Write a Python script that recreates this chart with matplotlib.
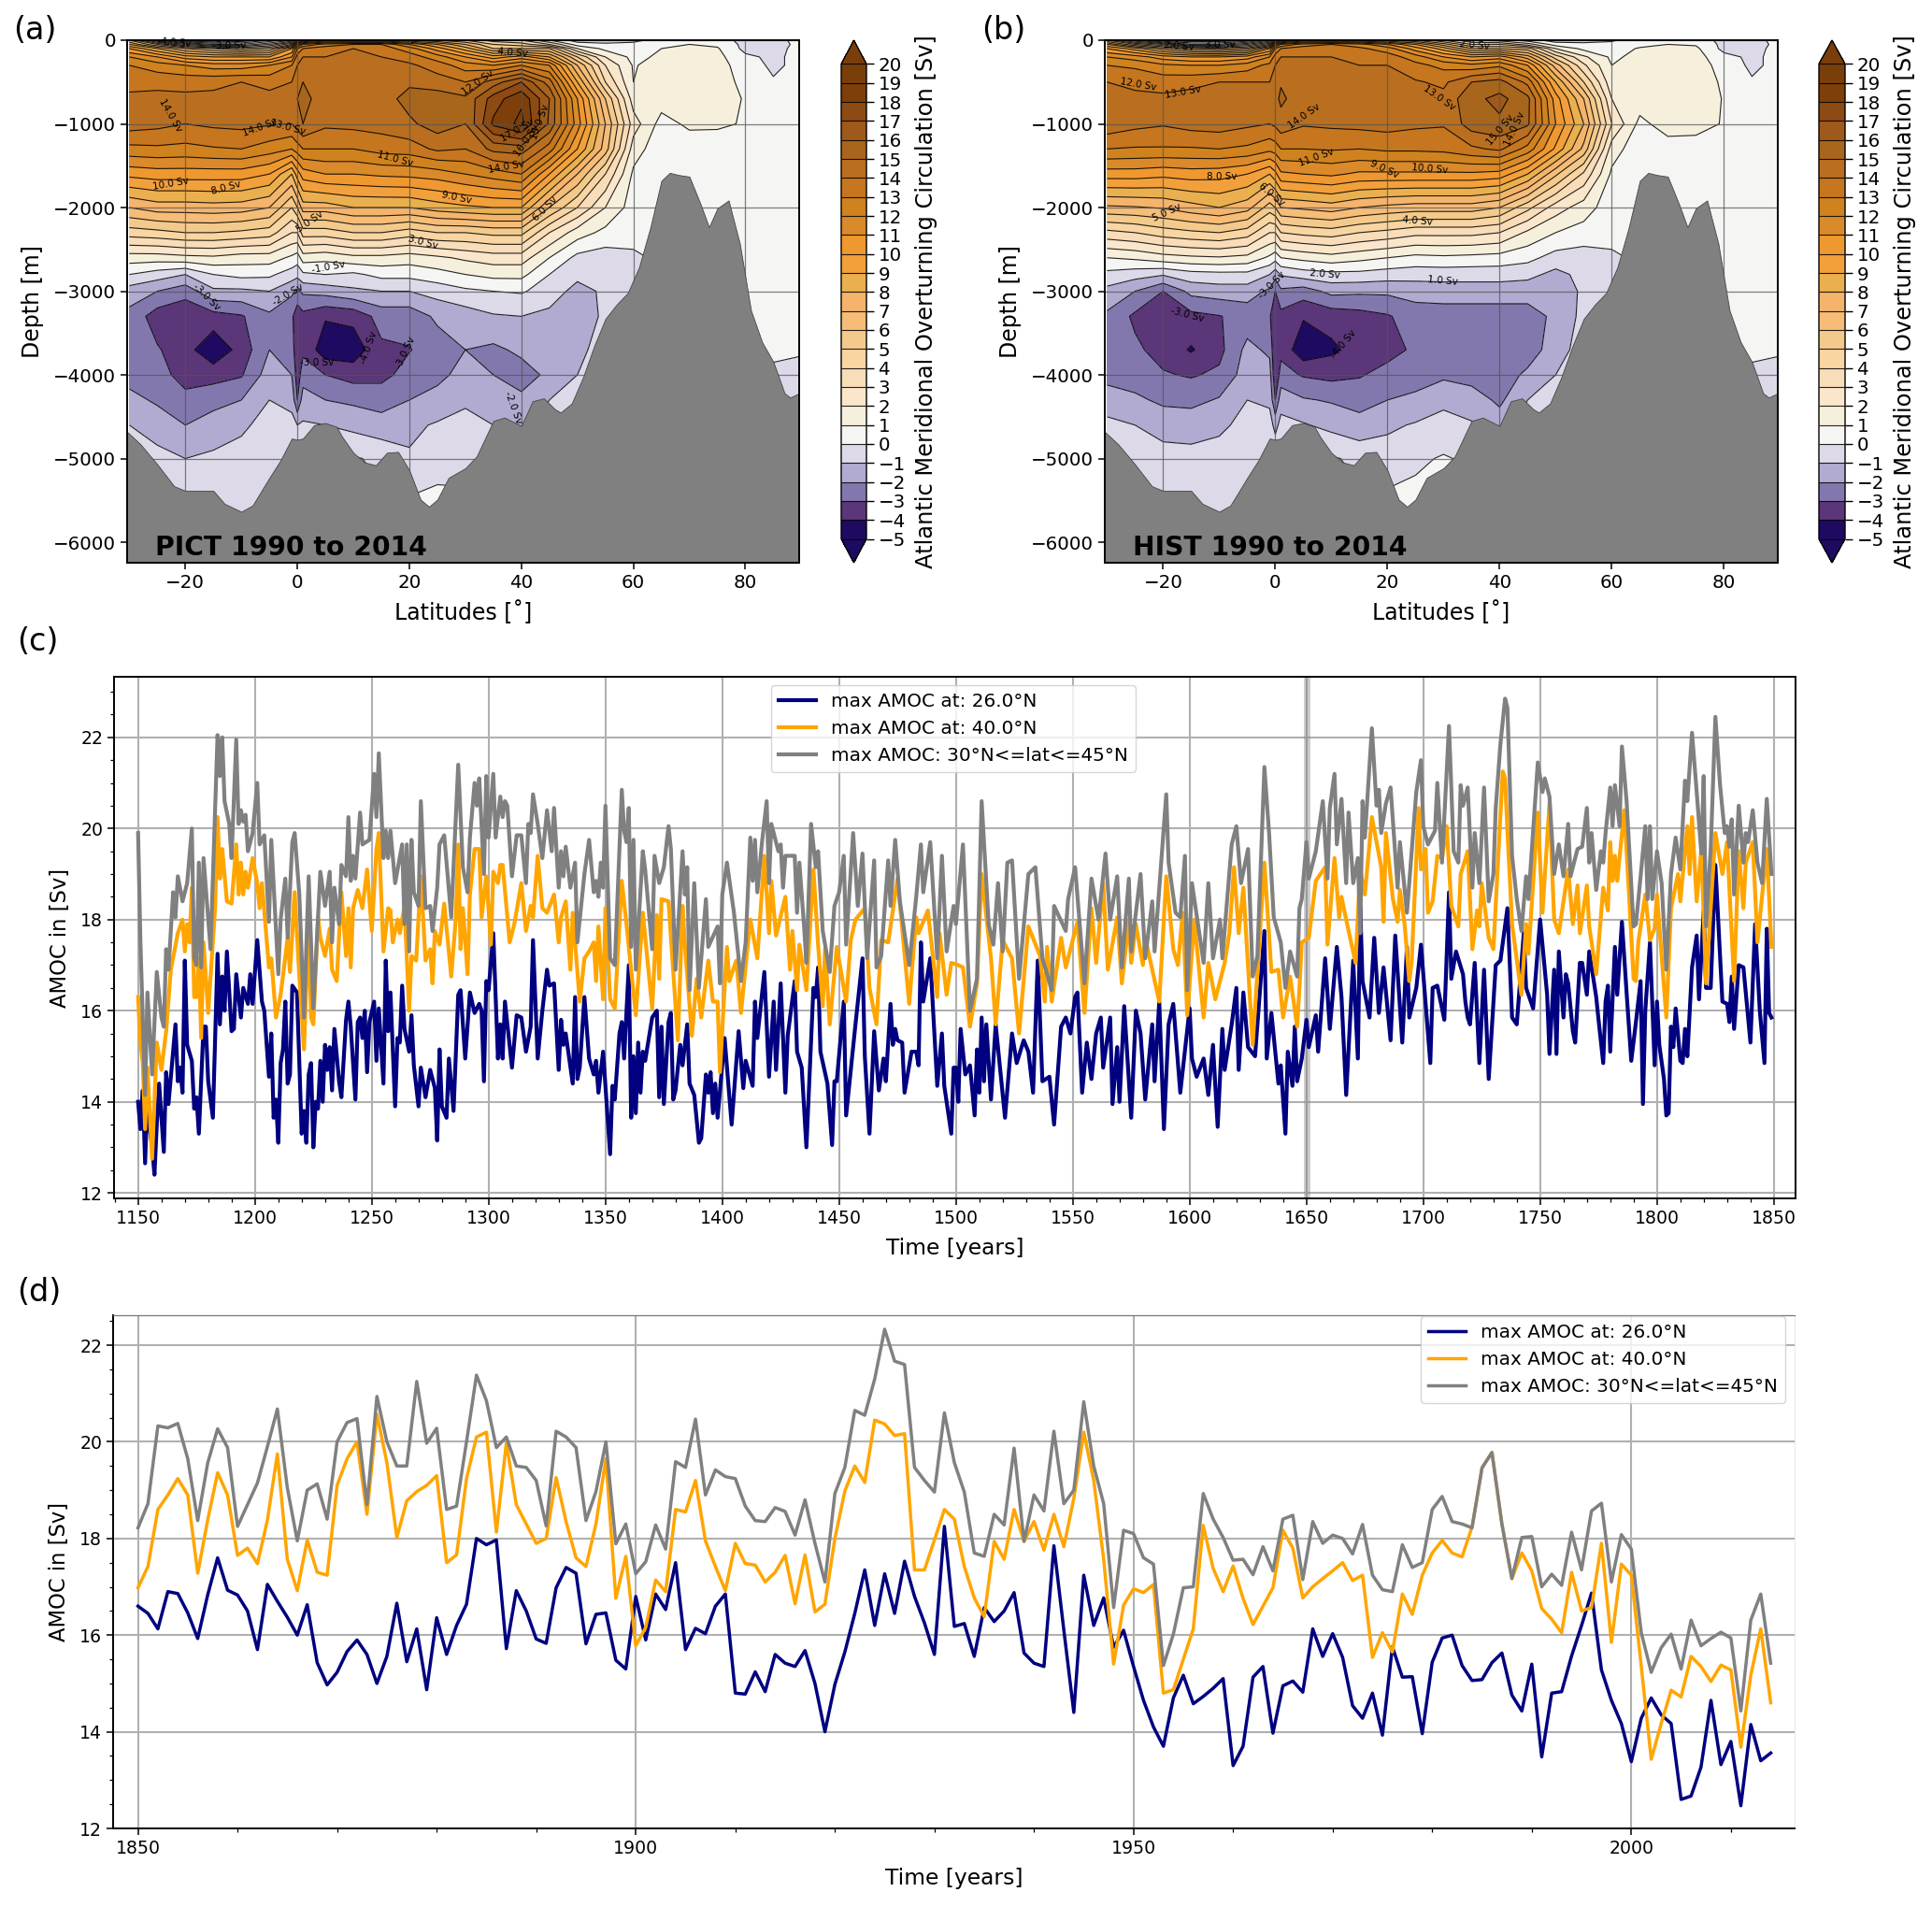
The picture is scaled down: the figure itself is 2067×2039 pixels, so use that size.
import numpy as np
import matplotlib
matplotlib.use("Agg")
import matplotlib.pyplot as plt
from matplotlib.colors import ListedColormap, BoundaryNorm
from matplotlib.ticker import MultipleLocator

W, H = 2067, 2039
plt.rcParams['font.family'] = ['DejaVu Sans']
plt.rcParams['contour.negative_linestyle'] = 'solid'

# ---------------- overturning sections ----------------
lats = [-30,-25,-20,-15,-10,-5,-1,0,1,5,10,15,20,25,30,35,40,45,50,55,60,65,70,75,80,85,90]
depths = [0,50,100,200,300,500,700,1000,1300,1600,2000,2300,2600,2800,3000,3300,3700,4000,4300,4600,5000,5500,6300]
pict = [
[6,1,-3,-3.5,-3,-1,1,4,6,8,8,8,7,6,5,3.5,3,1,-.5,-.5,-.2,.3,.5,.4,-.3,-.2,.2],
[8,5,2,0,0,2,5,9,11,12.5,13,13,11,9,7,5,4.5,3,.5,.2,.2,.6,1,.8,-.3,-.3,.2],
[10,8,6,5,4,5,9,12,13,13.5,14,13.5,12.5,10.5,8.5,6,6,6,2,.7,.4,1,1.2,1.1,-.3,-.3,.3],
[12,11,9.5,9,9,9,11,13.5,14,14,14.3,14,13.5,12.5,11,9.5,10.5,9,5,2,.7,1.2,1.4,1.3,.2,-.2,.3],
[13,12.5,12,11.5,11.5,12,13,14,14.3,14.2,14.5,14.2,14.2,13.5,12.5,12,13,12,7,3,.9,1.5,1.5,1.4,.5,-.2,.3],
[13.7,13.7,13.7,13.8,14,13.7,14,14.6,15,14.4,14.4,14.5,14.8,14.5,14,15.5,17,14.5,9,4,1,1.6,1.6,1.5,.7,.1,.3],
[14.2,14.3,14.2,14.2,14.5,14.3,14.3,15,15.3,14.5,14.5,14.5,15.4,15.5,15.2,17.5,18.8,16,11,6,1.5,1.5,1.7,1.6,.9,.2,.4],
[14.5,14.3,14,14.2,14.3,14.1,14,14.5,15,14.2,14.3,14.4,14.8,15.5,15,18.2,19.3,15.8,11.5,7,2.5,.6,1.2,1.2,.9,.2,.4],
[12.7,12.8,12.7,12.9,13,12.5,12,12.5,13,13,13,13.4,13.5,14.2,14,15.3,15.5,13.5,10,6.5,1.5,.3,.4,.3,.3,.2,.3],
[10.3,10.5,10.5,10.5,10.5,10,8,9.5,10.5,11,11,11.2,11.3,11.5,12,12.5,13,10,7,4,.8,.2,.2,.2,.2,.1,.2],
[7,7.5,7.5,7.6,7.5,7,5,6,7.5,7.5,8,8,8,8.5,8.8,9,9,6,4,2,.5,.1,.1,.1,.1,.1,.1],
[4.5,4.7,5,5,4.8,4.5,3,3,4.5,4.5,5,5,4.5,5,5,5.3,5.3,3,1.5,.7,.2,.1,.1,.1,.1,.1,.1],
[1.5,1.5,1.7,1.8,1.5,1.5,.8,.5,1.5,1.3,1.7,1.7,1.5,1.8,2.2,2.5,2.5,1,-.3,-.5,-.1,.1,.1,.1,.1,.1,.1],
[0,-.5,-1,0,.3,.2,-.5,-.7,-.2,0,-.2,.3,.3,.6,1,1.3,1.3,0,-.7,-.7,-.2,.1,.1,.1,.1,.1,.1],
[-1.5,-2,-2.6,-1.2,-1.2,-1,-1.8,-2.2,-1.8,-1.6,-1.2,-1,-1,-.6,-.2,0,.1,-.4,-1.4,-.8,-.2,.1,.1,.1,.1,.1,.1],
[-2.3,-3.5,-3.8,-3.4,-3.1,-2.2,-2.8,-3.7,-3.3,-3.9,-3.7,-2.6,-2.6,-1.8,-1.5,-1.1,-1,-1.3,-1.6,-.8,-.2,.1,.1,.1,.1,.1,.1],
[-2.7,-2.9,-3.6,-4.8,-3.6,-2,-2.5,-3.8,-3.2,-4.6,-4.6,-3.2,-3.05,-2.5,-2,-2.2,-1.8,-1.8,-1.3,-.5,-.2,.1,.1,.1,.1,.1,.1],
[-2.5,-2.6,-3.4,-3.4,-3.1,-1.5,-2,-3.5,-2.5,-3,-3.4,-3.3,-2.6,-2.3,-1.6,-2,-2.4,-1.8,-1,-.5,-.2,.1,.1,.1,.1,-.1,-.3],
[-1.6,-2.2,-2.7,-2.3,-2,-1,-1.3,-3,-1.5,-2,-2.2,-2.4,-2,-1.6,-1.1,-1.4,-1.8,-1,-.5,-.3,-.2,.1,.1,.1,.1,-.3,-.4],
[-1,-1.3,-2,-1.6,-1.2,-.6,-.7,-1,-.9,-1,-1.3,-1.6,-1.2,-.9,-.8,-1,-1.5,-.5,-.3,-.2,-.1,.1,.1,.1,.1,-.2,-.4],
[-.5,-.8,-1,-.8,-.6,-.3,-.3,-.2,-.1,-.1,.1,-.2,-.9,-.5,-.2,-.3,-.3,-.3,-.2,-.1,-.1,.1,.1,.1,.1,-.2,-.3],
[-.3,-.3,-.4,-.4,-.4,-.3,-.3,-.2,-.1,-.1,.1,.1,.1,.3,.1,-.2,-.2,-.2,-.1,-.1,-.1,.1,.1,.1,.1,-.1,-.2],
[-.3,-.3,-.4,-.4,-.4,-.3,-.3,-.2,-.1,-.1,.1,.1,.1,.3,.1,-.2,-.2,-.2,-.1,-.1,-.1,.1,.1,.1,.1,-.1,-.2],
]
hist = [
[5,1,-2.5,-3,-3,-2,1,4,6,8,8,8,7,6,4,2,1.5,.5,-.5,-.3,-.1,.4,.6,.5,-.3,-.2,.2],
[8,5,3,0,0,2,5,9,11,12.5,13,12.5,11,9,6.5,4,4,2.5,.5,.2,.2,.7,1,.9,-.3,-.3,.2],
[10,8.5,6.5,5,4.5,5.5,9,12,13,13.5,13.7,13.2,12.5,10.5,8.5,6,6,5.5,2,.7,.5,1.1,1.3,1.2,-.3,-.3,.3],
[12,11.5,10.5,10,10,10.5,12,13.5,14,14,14,13.8,13.5,12.5,11,10,10.5,8.5,4.5,2.2,.8,1.3,1.5,1.4,.3,-.2,.3],
[13,12.8,12.2,12,12,12.5,13.3,14,14.3,14.3,14.2,14,14,13.3,12.7,12.3,12.8,11,6.5,3.2,1,1.6,1.6,1.5,.6,-.2,.3],
[14,13.8,13.6,13.7,14,14,14,14.4,14.9,14.3,14.2,14.3,14.4,14.1,13.8,15,15.4,13.7,9,5,1.3,1.7,1.8,1.7,.8,.1,.3],
[14.5,14.2,14.2,14.4,14.5,14.3,14.3,14.7,15.2,14.4,14.3,14.3,14.9,14.7,14.3,15.7,16.3,15.3,10.5,7,2,1.6,2,2,.9,.2,.4],
[14.7,14.3,14.1,14.4,14.5,14.2,14,14.2,14.6,14.1,14.2,14.3,14.4,14.2,14.1,15.5,15.8,15.2,11,8,3,.7,1.5,1.5,.9,.2,.4],
[13,12.9,12.9,12.9,13,12.8,12.3,12.5,13,13,13.1,13,13.2,13.2,13.3,13.8,14.2,12.6,9.8,6.7,1.5,.3,.5,.4,.3,.1,.3],
[10.5,10.5,10.3,10.5,10.4,10,9,9.7,10.8,11,11.2,10.8,10.8,10.8,10.8,10.8,10.6,9,6.2,3.8,.8,.2,.1,.1,.1,.1,.1],
[6.8,6.9,7.1,7.6,8,7.4,5.5,6,7,7.2,7.5,7,6.7,6.5,6.5,6.5,6,4.3,2.5,1.5,.4,.1,.1,.1,.1,.1,.1],
[3.7,4,4.5,4.8,5,4.5,3,3,4,4.3,4.5,4,3.7,3.3,3.3,3.3,3,1.8,1,.6,.2,.1,.1,.1,.1,.1,.1],
[1,1.2,1.6,1.8,1.9,1.7,.8,.4,1,1.3,1.6,1.3,1,.7,.8,.7,.6,.3,-.4,-.5,-.1,.1,.1,.1,.1,.1,.1],
[-.3,-.6,-.9,-.4,-.3,-.3,-1,-1.6,-.9,-.5,-.3,-.3,-.5,-.6,-.6,-.6,-.6,-.7,-1.3,-.7,-.2,.1,.1,.1,.1,.1,.1],
[-1.3,-2,-3,-1.7,-1.5,-1.5,-2.2,-3,-2.2,-2.5,-1.7,-1.8,-1.8,-1.6,-1.5,-1.5,-1.5,-1.6,-1.7,-.8,-.2,.1,.1,.1,.1,.1,.1],
[-2.2,-3.2,-3.7,-3.3,-3.05,-2.6,-2.9,-3.7,-3.3,-3.9,-3.6,-3.4,-3.1,-2.5,-2.5,-2.5,-2.5,-2.4,-1.8,-.7,-.2,.1,.1,.1,.1,.1,.1],
[-2.7,-2.8,-3.4,-4.1,-3.3,-1.7,-2.2,-4,-3.3,-4.7,-4.2,-3.6,-3.4,-2.8,-2.6,-2.6,-2.6,-2.5,-1.5,-.5,-.2,.1,.1,.1,.1,.1,.1],
[-2.4,-2.5,-2.9,-3.1,-2.8,-1.5,-1.6,-3.8,-2.6,-3.1,-3.3,-3.1,-2.6,-2.4,-2.2,-2.4,-2.5,-1.8,-1,-.3,-.1,.1,.1,.1,.1,-.1,-.3],
[-1.4,-1.8,-2.2,-2.3,-1.9,-1,-1.2,-3,-1.4,-1.9,-2.1,-2.3,-2,-1.8,-1.2,-1.5,-2.2,-1,-.6,-.3,-.1,.1,.1,.1,.1,-.3,-.4],
[-.8,-1,-1.4,-1.4,-1.2,-.7,-.6,-1.3,-.7,-.9,-1.3,-1.7,-1.2,-.9,-.7,-.9,-1.5,-.5,-.3,-.2,-.1,.1,.1,.1,.1,-.2,-.4],
[-.4,-.5,-.6,-.7,-.6,-.3,-.3,-.2,-.2,-.1,.1,-.2,-.5,-.2,.1,-.2,-.3,-.3,-.2,-.1,-.1,.1,.1,.1,.1,-.2,-.3],
[-.3,-.3,-.4,-.4,-.4,-.3,-.3,-.2,-.1,-.1,.1,.1,.2,.3,.2,-.2,-.2,-.2,-.1,-.1,-.1,.1,.1,.1,.1,-.1,-.2],
[-.3,-.3,-.4,-.4,-.4,-.3,-.3,-.2,-.1,-.1,.1,.1,.2,.3,.2,-.2,-.2,-.2,-.1,-.1,-.1,.1,.1,.1,.1,-.1,-.2],
]
bathy_lat = [-30.4,-28,-25,-22,-20,-15,-13,-10,-8,-5,-3,-1,0,1,3,5,7,8,10,12,14,16,18,20,22,23.5,25,27,30,32,35,37,40,42,44,46,47,49,51,53,55,57,59,61,63,65,66.5,68,70,72,73.5,75,77,79,81,83,85,87,88,89.6]
bathy_dep = [-4680,-4830,-5070,-5330,-5385,-5385,-5540,-5635,-5560,-5230,-5020,-4760,-4775,-4760,-4600,-4575,-4620,-4740,-4930,-5045,-5080,-4930,-4920,-5140,-5490,-5575,-5490,-5230,-5115,-4975,-4550,-4510,-4610,-4315,-4280,-4410,-4450,-4340,-4030,-3655,-3330,-3160,-3020,-2715,-2245,-1680,-1585,-1610,-1630,-1960,-2235,-2010,-1915,-2430,-3230,-3610,-3845,-4220,-4270,-4220]
levels = list(range(-5, 21))
band_colors = ['#1e0a60','#5b3678','#8378ae','#b1abd1','#ddd9e9','#f5f6f3','#f6efdc','#f9e6cb','#f9dcb8','#f8d5a2',
               '#f3ca8c','#f5bd78','#f4b46c','#eab04f','#f2a03c','#ef9830','#da8a2a','#d0821f','#c5761f','#b96f1f',
               '#a8651c','#9e5a1a','#8d4a12','#7e3f0b','#7a3e0a']
labels_a = [("14.0 Sv",-22.7,-900,-60),("14.0 Sv",-6.6,-1045,20),("13.0 Sv",-1.7,-1045,-15),("12.0 Sv",32.3,-505,35),
 ("4.0 Sv",38.5,-150,-5),("17.0 Sv",39.3,-1080,30),("16.0 Sv",41,-1200,55),("15.0 Sv",43.4,-975,70),("14.0 Sv",37.4,-1515,10),
 ("11.0 Sv",17.4,-1420,-15),("10.0 Sv",-22.6,-1715,10),("8.0 Sv",-12.7,-1765,15),("9.0 Sv",28.5,-1880,-12),("6.0 Sv",44.2,-2010,45),
 ("5.0 Sv",2.2,-2175,35),("3.0 Sv",22.5,-2420,-15),("-1.0 Sv",5.5,-2715,10),("-2.0 Sv",-1.7,-3045,30),("-3.0 Sv",-16.3,-3070,-45),
 ("-3.0 Sv",3.5,-3855,0),("-4.0 Sv",12.8,-3680,70),("-3.0 Sv",19.4,-3735,65),("-2.0 Sv",38.5,-4385,-70),("-3.0 Sv",-12.2,-70,0),("-4.0 Sv",-22,-30,-5)]
labels_b = [("2.0 Sv",-17.2,-70,-5),("3.0 Sv",-9.9,-60,0),("2.0 Sv",35.5,-65,-5),("12.0 Sv",-24.4,-535,-10),("13.0 Sv",-16.5,-620,10),
 ("14.0 Sv",5.1,-910,35),("13.0 Sv",29.3,-690,-35),("15.0 Sv",40.2,-1070,50),("14.0 Sv",42.7,-1060,65),("11.0 Sv",7.3,-1400,20),
 ("9.0 Sv",19.5,-1540,-25),("10.0 Sv",27.5,-1540,-5),("8.0 Sv",-9.6,-1635,0),("6.0 Sv",-.6,-1845,-40),("5.0 Sv",-19.4,-2055,25),
 ("4.0 Sv",25.3,-2160,-5),("2.0 Sv",8.8,-2795,-5),("-3.0 Sv",-.7,-2930,45),("1.0 Sv",29.9,-2880,-5),("-3.0 Sv",-15.7,-3280,-15),("-4.0 Sv",12.1,-3630,50)]

# ---------------- panel (d): 1850-2014, yearly ----------------
d_amoc26 = [16.6,16.45,16.13,16.9,16.86,16.46,15.93,16.83,17.6,16.93,
 16.83,16.5,15.7,17.05,16.7,16.37,16.0,16.63,15.43,14.97,
 15.23,15.66,15.9,15.6,15.0,15.56,16.66,15.45,16.13,14.87,
 16.36,15.6,16.2,16.64,18.0,17.87,17.97,15.72,16.92,16.5,
 15.92,15.83,16.98,17.4,17.28,15.82,16.43,16.46,15.48,15.3,
 16.8,15.9,16.85,16.53,17.5,15.7,16.14,16.03,16.6,16.85,
 14.8,14.78,15.24,14.83,15.6,15.42,15.35,15.68,15.0,14.0,
 14.98,15.65,16.45,17.35,16.2,17.27,16.45,17.53,16.8,16.25,
 15.6,18.25,16.18,16.24,15.56,16.57,16.28,16.5,16.88,15.63,
 15.42,15.35,17.85,16.1,14.4,17.24,16.2,16.77,15.75,16.1,
 15.35,14.65,14.1,13.7,14.7,15.17,14.58,14.73,14.9,15.1,
 13.3,13.7,15.13,15.35,13.97,14.95,15.05,14.82,16.13,15.56,
 16.03,15.54,14.54,14.28,14.8,13.93,15.76,15.13,15.14,13.96,
 15.44,15.94,16.0,15.37,15.06,15.08,15.43,15.63,14.76,14.43,
 15.4,13.48,14.8,14.83,15.57,16.2,16.87,15.28,14.65,14.17,
 13.38,14.28,14.7,14.35,14.17,12.6,12.67,13.27,14.65,13.32,
 13.8,12.47,14.15,13.4,13.56]
d_amoc40 = [16.98,17.42,18.6,18.9,19.24,18.9,17.28,18.38,19.36,18.9,
 17.65,17.8,17.48,18.38,19.75,17.57,16.92,17.97,17.3,17.24,
 19.1,19.65,20.0,18.5,20.57,19.57,18.02,18.78,18.97,19.1,
 19.3,17.5,17.66,19.24,20.1,20.2,18.13,19.98,18.7,18.3,
 17.9,18.0,19.26,18.35,17.6,17.42,18.3,19.65,16.76,17.63,
 15.78,16.16,17.14,16.9,18.6,18.55,19.2,17.95,17.42,16.92,
 17.9,17.48,17.45,17.1,17.3,17.65,16.65,17.66,16.48,16.64,
 18.0,18.98,19.5,19.16,20.45,20.37,20.13,20.17,17.35,17.35,
 17.97,18.6,18.4,17.42,16.77,16.38,17.94,17.57,18.6,17.94,
 18.35,17.76,18.5,17.83,18.83,20.2,19.2,17.57,15.4,16.62,
 16.96,16.88,17.05,14.8,14.87,15.5,16.13,18.27,17.38,16.9,
 17.43,16.76,16.22,16.6,16.98,18.17,17.8,16.77,17.0,17.17,
 17.33,17.5,17.13,17.24,15.54,16.05,15.65,16.85,16.43,17.24,
 17.7,17.96,17.7,17.62,18.24,19.46,19.78,18.3,17.17,17.7,
 17.33,16.55,16.33,16.05,17.3,16.5,16.57,17.9,15.85,17.47,
 17.24,15.35,13.43,14.17,14.86,14.72,15.56,15.35,15.04,15.38,
 15.28,13.68,15.17,16.13,14.6]
d_max = [18.22,18.72,20.33,20.29,20.38,19.65,18.37,19.56,20.27,19.88,
 18.25,18.7,19.15,19.9,20.68,19.05,17.95,19.0,19.13,18.4,
 20.0,20.4,20.48,18.7,20.94,20.0,19.5,19.5,21.25,19.97,
 20.28,18.6,18.67,20.0,21.38,20.85,19.88,20.1,19.5,19.47,
 19.2,18.26,20.22,20.1,19.88,18.37,18.97,20.0,17.89,18.3,
 17.27,17.52,18.28,17.78,19.59,19.47,20.47,18.9,19.42,19.28,
 19.24,18.67,18.37,18.35,18.64,18.56,18.07,18.8,17.9,17.1,
 18.93,19.47,20.65,20.55,21.3,22.33,21.67,21.6,19.47,19.2,
 18.96,20.6,19.57,18.96,17.7,17.63,18.5,18.28,19.87,17.94,
 18.9,18.57,20.22,18.72,19.0,20.83,19.5,18.72,16.57,18.17,
 18.1,17.6,17.47,15.37,16.02,16.98,17.0,18.93,18.4,18.02,
 17.55,17.57,17.25,17.83,17.33,18.4,18.48,17.15,18.35,17.9,
 18.07,18.0,17.68,18.29,17.24,16.94,16.9,17.87,17.4,17.5,
 18.6,18.87,18.35,18.3,18.22,19.46,19.78,18.3,17.17,18.02,
 18.04,17.0,17.26,17.03,18.13,17.35,18.57,18.73,17.1,18.08,
 17.78,16.05,15.23,15.74,16.02,15.3,16.31,15.78,15.93,16.06,
 15.94,14.43,16.31,16.85,15.42]

# ---------------- panel (c): 1150-1849, (year, Sv) read at the turning points ----------------
c_amoc26 = [(1150,14.0),(1151,13.4),(1152,14.25),(1153,12.65),(1154,14.15),(1155,13.4),(1156,13.0),(1157,12.4),(1158,13.5),(1159,14.4),(1161,12.9),(1162,14.65),(1163,13.95),(1166,15.7),(1167,14.45),(1168,14.75),(1169,14.2),(1170,17.1),(1171,15.25),(1173,14.9),(1174,13.85),(1175,14.1),(1176,13.3),(1178,15.65),(1179,15.65),(1180,14.45),(1182,13.65),(1184,17.25),(1185,15.7),(1186,16.75),(1187,16.0),(1188,17.3),(1190,15.55),(1191,15.6),(1192,16.8),(1194,15.85),(1195,16.5),(1197,16.15),(1198,16.8),(1199,16.15),
(1201,17.55),(1203,16.2),(1204,16.0),(1206,14.55),(1207,15.5),(1208,13.65),(1209,14.05),(1210,13.1),(1211,14.85),(1212,15.15),(1213,16.2),(1214,14.4),(1215,14.6),(1216,16.55),(1218,16.4),(1220,13.3),(1221,13.8),(1222,13.1),(1223,14.6),(1224,14.85),(1225,13.0),(1226,14.0),(1227,13.85),(1228,14.9),(1229,14.0),(1230,15.25),(1231,14.7),(1232,15.2),(1233,14.25),(1234,15.6),(1236,14.45),(1237,14.1),(1239,15.8),(1240,16.2),(1241,15.65),(1243,14.05),(1244,15.75),(1245,15.85),(1246,15.4),(1247,16.0),(1248,14.65),(1249,15.75),
(1251,16.2),(1252,14.9),(1253,16.05),(1255,14.4),(1256,17.1),(1257,15.55),(1258,16.4),(1260,13.9),(1261,15.4),(1262,15.3),(1263,16.55),(1264,15.6),(1266,15.1),(1267,15.9),(1268,14.8),(1270,13.9),(1271,14.75),(1273,14.1),(1275,14.7),(1277,14.3),(1278,13.15),(1279,15.15),(1280,13.9),(1282,13.65),(1283,14.95),(1285,13.8),(1287,16.35),(1288,16.45),(1290,14.95),(1292,16.4),(1294,15.95),(1296,16.15),(1297,16.0),(1298,14.45),(1299,16.65),(1300,16.45),
(1302,17.7),(1304,14.95),(1305,15.7),(1306,14.95),(1307,16.2),(1310,14.75),(1312,15.9),(1314,15.85),(1316,15.1),(1318,15.65),(1319,17.55),(1321,14.95),(1323,16.0),(1325,16.9),(1326,16.55),(1328,16.6),(1330,14.7),(1331,15.8),(1332,15.25),(1333,15.5),(1336,14.4),(1337,16.3),(1338,14.5),(1339,14.75),(1341,16.3),(1343,14.95),(1345,14.6),(1346,14.9),(1347,14.2),(1349,15.1),(1350,14.35),
(1352,12.85),(1353,14.35),(1354,14.05),(1356,15.5),(1357,15.75),(1358,14.95),(1360,17.0),(1361,13.65),(1362,15.0),(1363,13.75),(1364,15.3),(1365,14.2),(1366,15.1),(1367,14.9),(1370,15.85),(1372,16.0),(1373,14.1),(1374,15.65),(1375,13.95),(1377,15.75),(1378,15.95),(1379,14.05),(1380,14.25),(1382,15.25),(1383,14.8),(1385,15.7),(1386,14.4),(1388,14.15),(1390,13.1),(1391,13.2),(1393,14.6),(1394,14.2),(1395,14.65),(1396,13.75),(1397,14.4),(1398,13.65),
(1401,15.4),(1404,13.5),(1407,15.55),(1409,14.3),(1410,14.9),(1413,14.35),(1414,16.2),(1415,15.4),(1418,16.85),(1420,14.55),(1422,16.2),(1423,14.7),(1425,16.6),(1427,14.2),(1428,15.45),(1431,16.65),(1432,15.1),(1434,14.75),(1436,13.0),(1439,16.5),(1440,16.3),(1441,16.95),(1442,15.1),(1445,14.4),(1447,13.05),(1448,14.45),(1449,14.45),
(1452,16.2),(1453,13.7),(1457,15.7),(1460,17.15),(1461,15.0),(1463,13.3),(1465,15.55),(1467,14.25),(1469,14.95),(1470,14.45),(1472,16.15),(1473,15.25),(1474,15.6),(1475,15.35),(1477,15.3),(1478,14.2),(1481,15.1),(1483,15.1),(1484,14.8),(1485,17.5),(1486,16.2),(1489,17.15),(1492,14.35),(1494,15.5),(1495,14.35),(1498,13.3),(1499,14.75),(1500,14.75),
(1501,14.0),(1502,15.6),(1504,14.6),(1506,14.8),(1508,13.7),(1509,15.15),(1510,14.2),(1511,15.85),(1512,14.45),(1513,15.7),(1515,14.05),(1517,15.7),(1521,13.65),(1524,15.5),(1526,14.85),(1529,15.35),(1531,15.1),(1533,14.2),(1535,17.1),(1537,14.45),(1540,14.55),(1542,13.5),(1545,15.65),(1547,15.85),(1549,15.5),
(1551,16.3),(1552,16.4),(1554,14.2),(1556,15.3),(1558,14.5),(1560,15.5),(1562,15.85),(1563,14.75),(1566,15.85),(1567,13.95),(1569,15.2),(1570,14.0),(1572,16.1),(1575,13.65),(1577,16.0),(1579,15.5),(1581,14.05),(1584,15.7),(1585,14.45),(1587,16.2),(1589,13.4),(1591,15.7),(1593,16.15),(1596,14.2),(1600,16.05),
(1601,14.95),(1603,14.55),(1606,14.95),(1608,14.15),(1610,15.25),(1612,13.45),(1614,15.6),(1615,14.7),(1618,15.7),(1620,16.5),(1621,14.7),(1623,16.4),(1625,15.2),(1628,15.0),(1632,17.75),(1633,14.95),(1635,15.95),(1638,14.4),(1639,14.8),(1641,13.3),(1642,15.1),(1644,14.35),(1645,15.65),(1646,14.45),(1648,14.95),(1650,15.8),
(1651,15.2),(1654,15.9),(1655,15.1),(1658,17.15),(1660,15.6),(1663,17.4),(1665,16.3),(1667,14.15),(1670,17.1),(1672,14.95),(1673,18.3),(1674,16.65),(1677,15.85),(1679,17.6),(1681,15.95),(1683,16.95),(1686,15.35),(1688,17.65),(1691,15.3),(1693,17.4),(1694,15.85),(1697,16.5),(1699,17.45),
(1703,14.85),(1704,16.5),(1706,16.55),(1709,15.8),(1711,18.6),(1712,16.7),(1714,17.3),(1717,16.8),(1718,16.2),(1719,15.85),(1720,15.7),(1722,17.05),(1724,14.85),(1726,16.9),(1728,14.5),(1731,17.0),(1733,17.1),(1736,18.25),(1738,15.85),(1740,15.7),(1743,17.7),(1744,16.5),(1747,16.05),(1750,18.0),
(1753,16.35),(1754,15.05),(1756,16.9),(1757,15.05),(1758,17.3),(1760,15.85),(1761,16.8),(1762,16.6),(1764,15.55),(1765,15.3),(1767,17.05),(1768,17.05),(1770,16.35),(1771,17.3),(1774,16.3),(1775,15.8),(1777,14.85),(1778,16.2),(1779,16.55),(1780,15.1),(1782,17.4),(1783,16.35),(1785,17.95),(1787,16.4),(1789,14.9),(1791,15.75),(1793,16.65),(1794,13.95),(1795,16.0),(1797,17.5),(1799,14.8),(1800,16.2),
(1801,15.25),(1803,14.5),(1804,13.7),(1805,13.75),(1806,15.65),(1807,15.2),(1808,16.05),(1810,14.9),(1811,14.85),(1812,15.6),(1813,15.0),(1815,16.95),(1817,17.65),(1818,16.25),(1820,18.2),(1821,16.5),(1823,16.5),(1825,19.2),(1828,16.2),(1830,16.15),(1831,15.75),(1832,16.75),(1833,15.6),(1835,17.0),(1837,16.95),(1840,15.3),(1842,17.9),(1844,16.0),(1846,14.85),(1847,17.8),(1848,15.95),(1849,15.85)]
c_amoc40 = [(1150,16.3),(1151,15.3),(1152,14.85),(1153,13.4),(1154,14.75),(1156,12.75),(1158,15.3),(1160,14.7),(1162,15.55),(1164,16.9),(1167,17.7),(1169,18.0),(1170,17.3),(1171,17.9),(1172,17.5),(1173,18.7),(1174,16.3),(1175,16.3),(1176,17.15),(1177,15.4),(1178,17.5),(1180,15.95),(1183,18.3),(1184,20.25),(1185,18.9),(1186,19.55),(1188,18.4),(1190,18.35),(1192,19.65),(1193,18.55),(1194,19.25),(1195,18.55),(1196,19.05),(1197,18.7),(1199,19.35),
(1201,18.8),(1202,18.25),(1203,18.8),(1206,16.95),(1207,17.15),(1209,15.85),(1211,16.35),(1214,17.6),(1215,16.85),(1217,18.6),(1219,16.75),(1221,15.15),(1223,18.0),(1224,15.85),(1225,15.7),(1227,18.05),(1228,17.6),(1230,17.2),(1232,17.8),(1233,16.9),(1235,16.65),(1237,18.6),(1239,17.2),(1240,18.25),(1241,16.95),(1242,18.25),(1244,18.65),(1246,18.25),(1248,19.1),(1250,17.75),
(1252,19.55),(1253,19.9),(1255,17.3),(1257,18.25),(1258,18.2),(1259,17.5),(1261,18.0),(1262,17.7),(1264,18.3),(1266,16.0),(1267,17.2),(1269,17.1),(1271,18.95),(1273,17.1),(1275,17.35),(1276,16.6),(1277,17.75),(1279,17.45),(1281,18.35),(1284,16.75),(1286,18.05),(1287,19.65),(1288,17.35),(1289,18.25),(1291,16.8),(1292,18.55),(1294,19.55),(1296,19.55),(1297,18.05),(1299,18.95),
(1301,17.45),(1302,19.05),(1304,18.8),(1305,19.2),(1306,19.2),(1309,17.5),(1311,17.9),(1314,18.8),(1316,17.75),(1318,18.3),(1319,18.05),(1321,19.4),(1323,18.25),(1325,18.15),(1328,18.55),(1330,17.5),(1331,18.05),(1333,18.4),(1335,16.9),(1336,18.15),(1339,16.2),(1341,17.15),(1343,17.3),(1345,17.5),(1346,16.65),(1347,17.85),(1349,16.25),(1350,18.25),
(1352,16.25),(1354,16.05),(1357,18.85),(1359,17.9),(1361,16.9),(1363,15.9),(1366,18.15),(1370,16.05),(1372,18.1),(1373,16.7),(1374,18.45),(1377,18.4),(1381,15.35),(1383,18.3),(1384,17.45),(1387,15.45),(1389,16.7),(1391,15.85),(1394,17.1),(1396,16.2),(1398,16.2),(1399,14.65),
(1402,17.4),(1403,16.65),(1406,17.1),(1408,15.95),(1412,18.0),(1415,17.15),(1418,19.4),(1420,17.7),(1421,18.85),(1423,17.65),(1427,18.5),(1429,16.9),(1430,17.75),(1432,16.45),(1433,17.45),(1436,16.45),(1439,19.1),(1441,17.45),(1443,16.1),(1444,17.35),(1446,15.7),(1449,17.4),
(1453,16.2),(1455,17.55),(1457,18.0),(1461,18.25),(1463,16.5),(1466,15.7),(1468,17.55),(1471,17.5),(1475,18.9),(1480,16.15),(1483,18.05),(1484,17.7),(1488,18.2),(1492,16.3),(1493,17.7),(1496,16.35),(1498,17.05),
(1501,17.0),(1503,16.95),(1506,15.65),(1509,16.6),(1511,19.0),(1515,17.15),(1517,15.7),(1520,17.55),(1524,17.15),(1527,15.5),(1531,17.85),(1536,17.2),(1538,16.2),(1539,17.4),(1541,16.2),(1545,17.6),(1547,16.95),
(1552,17.95),(1555,15.95),(1558,18.25),(1560,17.05),(1563,18.8),(1565,16.9),(1569,18.05),(1571,16.6),(1574,18.0),(1575,17.05),(1577,17.9),(1580,17.0),(1581,17.6),(1587,16.2),(1590,18.95),(1593,17.35),(1595,17.0),(1597,18.15),(1599,15.9),
(1602,18.0),(1606,15.85),(1608,17.05),(1611,16.25),(1615,17.05),(1617,17.7),(1619,19.15),(1621,17.7),(1623,18.7),(1627,15.25),(1632,19.25),(1635,16.85),(1638,16.9),(1640,15.85),(1643,16.75),(1646,15.65),(1647,16.5),(1648,17.5),
(1651,17.6),(1654,18.85),(1658,19.15),(1659,17.45),(1662,19.35),(1664,18.05),(1665,18.5),(1667,18.0),(1671,17.05),(1673,19.1),(1675,18.55),(1678,20.25),(1682,19.15),(1683,17.95),(1684,19.9),(1687,18.45),(1689,17.95),(1690,18.65),(1692,17.9),(1694,16.65),(1695,17.05),(1698,20.45),(1699,19.1),
(1701,19.55),(1702,18.15),(1704,18.4),(1706,19.4),(1708,19.35),(1710,20.05),(1712,18.3),(1715,17.85),(1716,19.0),(1719,19.5),(1721,17.35),(1723,18.2),(1724,17.85),(1725,18.8),(1728,17.6),(1730,17.35),(1734,21.25),(1735,21.1),(1736,19.95),(1738,17.9),(1742,16.35),(1744,17.9),(1745,17.25),(1749,20.35),
(1751,18.15),(1754,20.55),(1756,18.0),(1758,17.7),(1762,19.1),(1764,17.9),(1766,18.75),(1767,17.7),(1770,18.75),(1771,17.85),(1774,16.8),(1777,18.7),(1779,18.2),(1780,19.7),(1781,18.85),(1782,19.4),(1783,18.85),(1786,20.4),(1788,18.6),(1790,16.7),(1791,16.65),(1792,17.5),(1795,18.55),(1797,17.55),(1799,17.8),(1800,18.55),
(1804,15.85),(1806,18.25),(1809,19.0),(1810,18.4),(1813,20.05),(1814,19.0),(1815,20.25),(1817,18.4),(1819,19.55),(1821,16.6),(1825,19.9),(1828,19.0),(1830,19.7),(1833,16.65),(1835,19.5),(1837,18.25),(1838,19.25),(1841,19.7),(1843,17.5),(1847,19.55),(1849,17.4)]
c_max = [(1150,19.9),(1151,17.5),(1153,14.15),(1154,16.4),(1156,14.6),(1158,16.85),(1160,15.85),(1161,15.65),(1162,17.35),(1163,16.9),(1165,18.6),(1166,18.05),(1167,18.95),(1169,18.4),(1171,18.8),(1173,20.0),(1174,17.15),(1175,17.0),(1176,19.25),(1177,16.95),(1178,19.35),(1181,17.35),(1184,22.05),(1185,21.15),(1186,22.0),(1187,20.6),(1189,20.1),(1190,19.35),(1192,21.95),(1193,20.1),(1194,20.4),(1195,20.15),(1196,20.3),(1197,19.5),(1199,19.9),
(1201,21.0),(1202,19.65),(1204,19.85),(1206,17.95),(1207,19.75),(1210,16.8),(1211,18.0),(1213,18.9),(1214,17.6),(1216,19.7),(1217,19.9),(1219,18.55),(1221,15.85),(1223,18.95),(1225,16.05),(1228,19.05),(1230,18.3),(1232,19.05),(1233,17.5),(1234,18.7),(1236,17.9),(1237,19.2),(1239,18.95),(1240,20.25),(1241,18.85),(1242,19.4),(1243,18.9),(1245,20.35),(1246,19.65),(1249,19.75),(1251,21.2),(1252,20.25),(1253,21.65),(1255,19.35),(1256,19.95),(1257,19.35),(1258,19.95),
(1260,18.8),(1263,19.65),(1264,17.9),(1265,19.65),(1266,17.3),(1267,19.75),(1268,18.6),(1270,18.3),(1271,20.6),(1273,18.25),(1275,18.3),(1276,17.75),(1278,18.7),(1279,19.65),(1281,19.85),(1284,18.05),(1287,21.4),(1289,19.15),(1291,18.6),(1292,19.8),(1294,21.0),(1295,20.5),(1296,21.1),(1298,19.0),(1299,21.15),(1300,19.8),
(1302,21.2),(1303,19.8),(1305,20.7),(1306,20.25),(1307,20.6),(1308,20.5),(1310,18.95),(1312,19.85),(1314,19.85),(1316,18.8),(1317,20.1),(1318,19.9),(1319,20.75),(1321,20.1),(1323,19.35),(1325,20.4),(1327,19.5),(1328,20.45),(1330,18.7),(1331,19.5),(1332,18.95),(1333,19.6),(1335,18.7),(1337,19.25),(1338,17.5),(1341,19.0),(1343,19.75),(1345,18.6),(1346,18.85),(1347,18.5),(1348,19.25),(1349,18.7),(1350,20.5),
(1352,17.15),(1354,17.0),(1357,20.85),(1358,19.95),(1359,19.7),(1360,20.45),(1361,17.4),(1362,19.75),(1363,16.9),(1366,19.5),(1367,19.1),(1370,17.35),(1371,19.4),(1373,18.8),(1375,19.15),(1377,20.05),(1378,19.55),(1380,16.9),(1383,19.5),(1384,18.55),(1385,19.15),(1386,16.45),(1388,18.8),(1390,16.5),(1393,18.45),(1394,17.4),(1398,17.85),(1399,16.6),(1400,18.55),
(1402,19.25),(1405,18.15),(1408,16.65),(1410,17.5),(1412,19.8),(1413,18.85),(1414,19.75),(1415,18.6),(1417,19.7),(1419,20.6),(1420,18.8),(1421,20.1),(1424,19.5),(1425,19.65),(1426,18.7),(1427,19.4),(1429,19.4),(1431,19.4),(1432,18.15),(1433,19.25),(1435,17.85),(1436,17.05),(1438,20.1),(1440,19.15),(1441,19.5),(1443,17.75),(1446,16.85),(1448,18.3),(1450,18.6),
(1452,19.4),(1453,17.45),(1456,19.9),(1458,18.3),(1460,19.45),(1462,17.15),(1465,19.3),(1466,16.95),(1468,17.2),(1471,19.3),(1472,18.3),(1474,19.75),(1476,18.4),(1480,17.0),(1483,18.5),(1485,19.65),(1486,18.6),(1489,19.7),(1492,17.15),(1494,19.4),(1496,17.3),(1499,18.3),(1500,17.9),
(1503,19.65),(1506,16.0),(1509,16.7),(1511,20.6),(1514,17.9),(1516,17.45),(1518,18.8),(1520,17.3),(1522,19.25),(1524,19.3),(1527,16.7),(1531,19.0),(1534,19.15),(1537,17.15),(1541,16.45),(1542,18.3),(1547,17.75),(1548,18.45),(1551,19.15),(1555,16.6),(1558,18.9),(1561,18.0),(1564,19.45),(1566,18.0),(1569,18.95),(1571,16.95),(1574,18.9),(1575,17.3),(1579,19.0),(1581,17.15),(1584,18.4),(1585,17.3),(1590,20.75),(1591,19.25),(1594,18.15),(1596,18.05),(1598,19.4),(1599,16.45),
(1601,18.8),(1606,17.05),(1608,18.8),(1610,17.15),(1613,18.0),(1614,17.15),(1618,19.65),(1620,20.05),(1622,18.8),(1625,19.55),(1627,16.75),(1629,17.2),(1632,21.35),(1634,19.9),(1636,18.05),(1639,17.5),(1641,16.5),(1643,17.3),(1646,16.75),(1647,18.25),(1648,18.45),(1650,19.7),
(1651,18.9),(1654,19.5),(1657,20.6),(1659,18.9),(1660,20.45),(1662,21.2),(1663,19.65),(1665,20.65),(1667,18.8),(1668,20.35),(1670,18.8),(1672,19.35),(1673,17.7),(1674,20.6),(1675,19.8),(1678,22.2),(1680,20.5),(1681,20.85),(1682,19.9),(1684,20.55),(1686,20.9),(1689,18.7),(1690,19.7),(1693,18.15),(1697,20.8),(1699,21.5),
(1700,20.05),(1702,19.65),(1705,19.95),(1706,21.0),(1708,19.25),(1711,22.25),(1713,19.5),(1715,19.25),(1716,20.95),(1717,20.5),(1719,20.9),(1721,18.7),(1722,19.9),(1724,18.8),(1726,20.9),(1728,18.4),(1730,19.0),(1731,20.45),(1733,21.85),(1735,22.85),(1736,22.65),(1738,19.4),(1740,18.45),(1742,17.75),(1744,18.95),(1745,18.45),(1749,21.45),
(1751,20.8),(1752,21.1),(1754,20.7),(1756,19.0),(1758,19.65),(1760,18.95),(1762,20.1),(1763,18.95),(1766,19.55),(1768,19.6),(1770,20.45),(1771,19.25),(1772,19.9),(1774,18.65),(1776,19.5),(1777,19.25),(1778,19.9),(1780,20.9),(1781,20.05),(1782,20.95),(1784,20.05),(1785,21.8),(1787,20.6),(1790,17.85),(1791,17.9),(1793,18.95),(1795,20.05),(1796,18.45),(1797,20.05),(1798,18.45),(1800,19.5),
(1802,18.8),(1804,16.9),(1806,19.0),(1808,19.8),(1810,19.1),(1812,21.05),(1813,20.6),(1815,22.1),(1817,20.8),(1819,19.45),(1820,21.15),(1821,17.85),(1823,19.55),(1825,22.45),(1827,20.95),(1829,19.9),(1830,20.05),(1831,19.6),(1832,20.2),(1833,18.55),(1835,20.5),(1837,19.25),(1838,19.9),(1839,19.7),(1841,20.4),(1843,19.25),(1845,18.8),(1847,20.65),(1849,19.0)]

names = ["max AMOC at: 26.0°N", "max AMOC at: 40.0°N", "max AMOC: 30°N<=lat<=45°N"]
line_colors = ["navy", "orange", "gray"]

fig = plt.figure(figsize=(W/100, H/100), dpi=100)

def box(l, t, r, b):
    return [l/W, 1-b/H, (r-l)/W, (b-t)/H]

def section(pos, cpos, field, title, labels):
    ax = fig.add_axes(box(*pos))
    cmap = ListedColormap(band_colors)
    cmap.set_under(band_colors[0]); cmap.set_over(band_colors[-1])
    norm = BoundaryNorm(levels, cmap.N)
    Z = np.array(field)
    D = -np.array(depths)
    cf = ax.contourf(lats, D, Z, levels=levels, cmap=cmap, norm=norm, extend='both', zorder=1)
    cl = ax.contour(lats, D, Z, levels=levels, colors='k', linewidths=0.8, alpha=0.85, zorder=2)
    ax.grid(True, color='#555555', lw=0.9, alpha=0.75, zorder=3)
    ax.set_axisbelow(False)
    ax.fill_between(bathy_lat, bathy_dep, -6245, color='gray', ec='#444444', lw=0.6, zorder=4)
    for s, la, de, rot in labels:
        ax.text(la, de, s, fontsize=7.5, rotation=rot, ha='center', va='center', zorder=3.5, rotation_mode='anchor')
    ax.set_xlim(-30.4, 89.6)
    ax.set_ylim(-6245, 0)
    ax.set_xticks([-20, 0, 20, 40, 60, 80])
    ax.set_yticks([0, -1000, -2000, -3000, -4000, -5000, -6000])
    ax.tick_params(labelsize=14.3, length=5, width=1.1)
    ax.set_xlabel("Latitudes [˚]", fontsize=17, labelpad=7)
    ax.set_ylabel("Depth [m]", fontsize=17, labelpad=7)
    ax.text(-25.4, -6070, title, fontsize=20.3, fontweight='bold', va='center', zorder=5)
    for s in ax.spines.values():
        s.set_linewidth(1.4); s.set_zorder(6)
    cax = fig.add_axes(box(*cpos))
    cb = fig.colorbar(cf, cax=cax, extend='both', ticks=levels, spacing='uniform', drawedges=False)
    cb.add_lines(cl)
    cb.ax.tick_params(labelsize=14.3, length=6, width=1.0, pad=3)
    cb.set_label("Atlantic Meridional Overturning Circulation [Sv]", fontsize=17.4, labelpad=7)
    cb.outline.set_linewidth(1.0)
    return ax

section((136, 43, 855, 602), (900, 43, 927, 602), pict, "PICT 1990 to 2014", labels_a)
section((1182, 43, 1902, 602), (1946, 43, 1974, 602), hist, "HIST 1990 to 2014", labels_b)

def series(pos, xlim, ylim, xs, lw):
    ax = fig.add_axes(box(*pos))
    for (x, y), c, n in zip(xs, line_colors, names):
        ax.plot(x, y, color=c, lw=lw, label=n, zorder=3)
    ax.set_xlim(*xlim); ax.set_ylim(*ylim)
    ax.xaxis.set_major_locator(MultipleLocator(50))
    ax.xaxis.set_minor_locator(MultipleLocator(10))
    ax.yaxis.set_major_locator(MultipleLocator(2))
    ax.yaxis.set_minor_locator(MultipleLocator(0.5))
    ax.grid(True, which='major', color='#b0b0b0', lw=1.5, zorder=1)
    ax.set_axisbelow(True)
    ax.tick_params(which='major', labelsize=13.6, length=5, width=1.1)
    ax.tick_params(which='minor', length=3, width=0.9)
    ax.set_xlabel("Time [years]", fontsize=16.8, labelpad=8)
    ax.set_ylabel("AMOC in [Sv]", fontsize=16.3, labelpad=7)
    for s in ax.spines.values():
        s.set_linewidth(1.4)
    return ax

def unpack(pairs):
    p = sorted(pairs)
    return [a for a, _ in p], [b for _, b in p]

axc = series((122, 724, 1921, 1282), (1139.7, 1859.3), (11.88, 23.33),
             [unpack(c_amoc26), unpack(c_amoc40), unpack(c_max)], 3.0)
axc.axvspan(1648.8, 1651.6, color='gray', alpha=0.4, lw=0, zorder=2)
axc.legend(loc='upper left', bbox_to_anchor=(0.391, 0.984), borderaxespad=0, fontsize=14.4)

yrs = np.arange(1850, 2015)
axd = series((121, 1407, 1920, 1956), (1847.5, 2016.4), (12, 22.62),
             [(yrs, d_amoc26), (yrs, d_amoc40), (yrs, d_max)], 2.5)
axd.spines['right'].set_color('#dddddd')
axd.spines['right'].set_linewidth(0.5)
axd.spines['top'].set_color('#777777')
axd.spines['top'].set_linewidth(0.9)
axd.legend(loc='upper right', bbox_to_anchor=(0.9945, 0.998), borderaxespad=0, fontsize=14.4)

for s, x, y in [("(a)", 14, 33), ("(b)", 1050, 33), ("(c)", 18, 687), ("(d)", 18, 1382)]:
    fig.text(x/W, 1-y/H, s, fontsize=24, va='center', ha='left')

fig.savefig("out.png", dpi=100)
